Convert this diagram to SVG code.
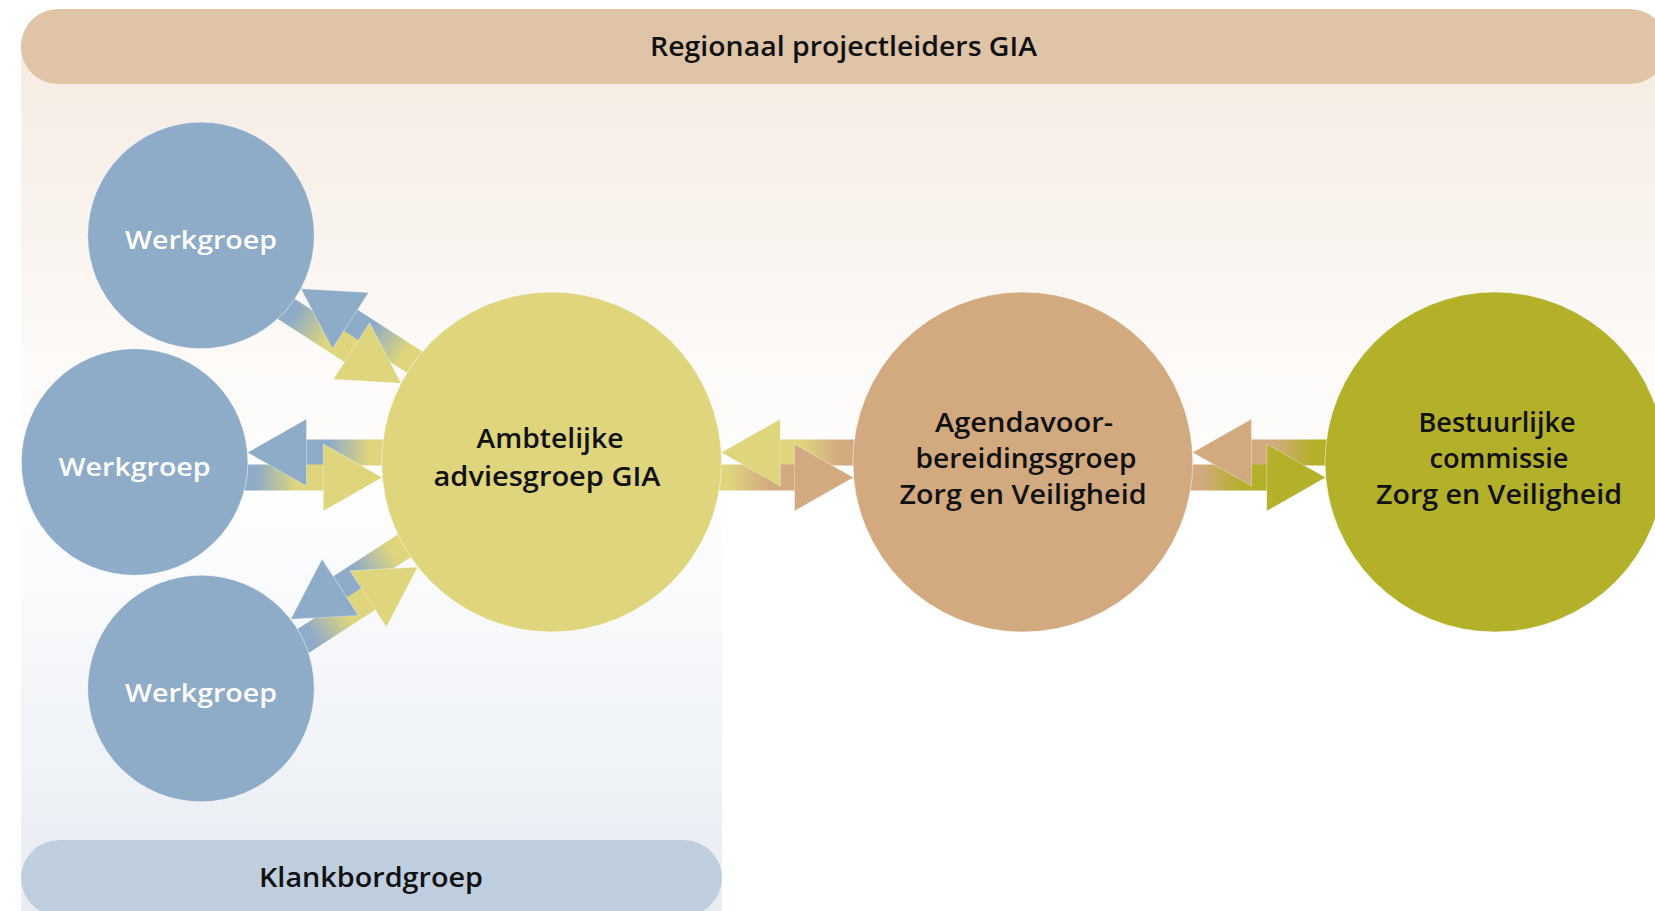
<svg xmlns="http://www.w3.org/2000/svg" width="1655" height="911" viewBox="0 0 1655 911">
<style>
  text { font-family: "Open Sans", Lato, "Liberation Sans", sans-serif; font-weight: 600; text-anchor: middle; fill: #111; }
  .lbl { font-size: 26.5px; }
  .wg { font-size: 24.5px; fill: #ffffff; }
  .node { stroke: #ffffff; stroke-opacity: 0.5; stroke-width: 1; }
  .hd { stroke: #ffffff; stroke-opacity: 0.35; stroke-width: 1; }
</style>
<defs>
  <linearGradient id="bg" gradientUnits="userSpaceOnUse" x1="0" y1="47" x2="0" y2="911">
    <stop offset="0" stop-color="#f5ebe2"/>
    <stop offset="0.5" stop-color="#ffffff"/>
    <stop offset="1" stop-color="#e7ecf3"/>
  </linearGradient>
  <linearGradient id="byF"><stop offset="0.15" stop-color="#8eabc8"/><stop offset="0.65" stop-color="#ded57d"/></linearGradient>
  <linearGradient id="byB"><stop offset="0.3" stop-color="#8eabc8"/><stop offset="0.8" stop-color="#ded57d"/></linearGradient>
  <linearGradient id="ytF"><stop offset="0.15" stop-color="#ded57d"/><stop offset="0.65" stop-color="#d3aa80"/></linearGradient>
  <linearGradient id="ytB"><stop offset="0.3" stop-color="#ded57d"/><stop offset="0.8" stop-color="#d3aa80"/></linearGradient>
  <linearGradient id="tgF"><stop offset="0.15" stop-color="#d3aa80"/><stop offset="0.65" stop-color="#b3b02a"/></linearGradient>
  <linearGradient id="tgB"><stop offset="0.3" stop-color="#d3aa80"/><stop offset="0.8" stop-color="#b3b02a"/></linearGradient>
</defs>

<g id="background">
  <rect x="21" y="47" width="1640" height="433" fill="url(#bg)"/>
  <rect x="21" y="47" width="701" height="870" fill="url(#bg)"/>
</g>

<g id="regionaal">
  <rect x="21" y="9" width="1646" height="75" rx="37" ry="37" fill="#dfc4a8"/>
  <text class="lbl" x="843.5" y="56" textLength="387" lengthAdjust="spacingAndGlyphs">Regionaal projectleiders GIA</text>
</g>

<g id="klankbordgroep">
  <rect x="21" y="840" width="701" height="76" rx="38" ry="38" fill="#bfcfe0"/>
  <text class="lbl" x="371" y="887" textLength="224" lengthAdjust="spacingAndGlyphs">Klankbordgroep</text>
</g>

<g id="connectors">
  <g transform="translate(201,235.4) rotate(32.87)">
    <rect x="169.9" y="-22.5" width="80.9" height="26" fill="url(#byB)"/>
    <rect x="109.2" y="2.5" width="82" height="26" fill="url(#byF)"/>
    <polygon class="hd" fill="#8eabc8" points="112.9,-9.5 171.9,-43 171.9,24"/>
    <polygon class="hd" fill="#ded57d" points="248.2,15.5 189.2,-18 189.2,49"/>
  </g>
  <g transform="translate(134.6,462)">
    <rect x="169.9" y="-22.5" width="80.4" height="26" fill="url(#byB)"/>
    <rect x="109.2" y="2.5" width="81.5" height="26" fill="url(#byF)"/>
    <polygon class="hd" fill="#8eabc8" points="112.9,-9.5 171.9,-43 171.9,24"/>
    <polygon class="hd" fill="#ded57d" points="247.7,15.5 188.7,-18 188.7,49"/>
  </g>
  <g transform="translate(201,688.5) rotate(-32.86)">
    <rect x="169.9" y="-22.5" width="80.8" height="26" fill="url(#byB)"/>
    <rect x="109.2" y="2.5" width="81.9" height="26" fill="url(#byF)"/>
    <polygon class="hd" fill="#8eabc8" points="112.9,-9.5 171.9,-43 171.9,24"/>
    <polygon class="hd" fill="#ded57d" points="248.1,15.5 189.1,-18 189.1,49"/>
  </g>
  <g transform="translate(551.6,462)">
    <rect x="226.7" y="-22.5" width="77.8" height="26" fill="url(#ytB)"/>
    <rect x="166.3" y="2.5" width="78.6" height="26" fill="url(#ytF)"/>
    <polygon class="hd" fill="#ded57d" points="169.7,-9.5 228.7,-43 228.7,24"/>
    <polygon class="hd" fill="#d3aa80" points="301.9,15.5 242.9,-18 242.9,49"/>
  </g>
  <g transform="translate(1022.8,462)">
    <rect x="226.7" y="-22.5" width="78.8" height="26" fill="url(#tgB)"/>
    <rect x="166.3" y="2.5" width="79.6" height="26" fill="url(#tgF)"/>
    <polygon class="hd" fill="#d3aa80" points="169.7,-9.5 228.7,-43 228.7,24"/>
    <polygon class="hd" fill="#b3b02a" points="302.9,15.5 243.9,-18 243.9,49"/>
  </g>
</g>

<g id="werkgroep1">
  <circle class="node" cx="201" cy="235.4" r="113.3" fill="#8eabc8"/>
  <text class="wg" x="201" y="249.3" textLength="152" lengthAdjust="spacingAndGlyphs">Werkgroep</text>
</g>
<g id="werkgroep2">
  <circle class="node" cx="134.6" cy="462" r="113.3" fill="#8eabc8"/>
  <text class="wg" x="134.6" y="475.9" textLength="152" lengthAdjust="spacingAndGlyphs">Werkgroep</text>
</g>
<g id="werkgroep3">
  <circle class="node" cx="201" cy="688.5" r="113.3" fill="#8eabc8"/>
  <text class="wg" x="201" y="702.4" textLength="152" lengthAdjust="spacingAndGlyphs">Werkgroep</text>
</g>
<g id="ambtelijke">
  <circle class="node" cx="551.6" cy="462" r="170" fill="#ded57d"/>
  <text class="lbl" x="550" y="448.3" textLength="147" lengthAdjust="spacingAndGlyphs">Ambtelijke</text>
  <text class="lbl" x="547" y="486" textLength="227" lengthAdjust="spacingAndGlyphs">adviesgroep GIA</text>
</g>
<g id="agendavoorbereiding">
  <circle class="node" cx="1022.8" cy="462" r="170" fill="#d3aa80"/>
  <text class="lbl" x="1024" y="432.3" textLength="178" lengthAdjust="spacingAndGlyphs">Agendavoor-</text>
  <text class="lbl" x="1026" y="468.3" textLength="221" lengthAdjust="spacingAndGlyphs">bereidingsgroep</text>
  <text class="lbl" x="1023" y="504" textLength="247" lengthAdjust="spacingAndGlyphs">Zorg en Veiligheid</text>
</g>
<g id="bestuurlijke">
  <circle class="node" cx="1495" cy="462" r="170" fill="#b3b02a"/>
  <text class="lbl" x="1497" y="432.3" textLength="157" lengthAdjust="spacingAndGlyphs">Bestuurlijke</text>
  <text class="lbl" x="1499" y="468.3" textLength="139" lengthAdjust="spacingAndGlyphs">commissie</text>
  <text class="lbl" x="1499" y="504" textLength="246" lengthAdjust="spacingAndGlyphs">Zorg en Veiligheid</text>
</g>
</svg>
